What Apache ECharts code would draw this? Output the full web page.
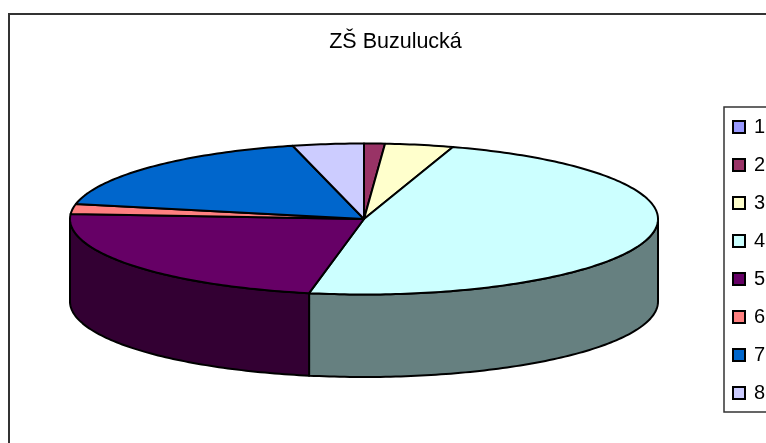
<!DOCTYPE html>
<html>
<head>
<meta charset="utf-8">
<style>html,body{margin:0;padding:0;background:#fff;overflow:hidden}#c{width:766px;height:443px}</style>
<script src="https://cdn.jsdelivr.net/npm/echarts@6/dist/echarts.min.js"></script>
</head>
<body>
<div id="c"></div>
<script>
const titleText = 'ZŠ Buzulucká';
const categories = ['1','2','3','4','5','6','7','8'];
const values = [0, 1.14, 3.75, 48.1, 23.05, 2.14, 17.92, 3.9];
const colors = ['#9999FF','#993366','#FFFFCC','#CCFFFF','#660066','#FF8080','#0066CC','#CCCCFF'];
const sideColors = ['#4D4D80','#4D1A33','#808066','#668080','#330033','#804040','#003366','#666680'];

const CX = 364, CY = 219, RX = 294, RY = 75.5, DEPTH = 82.5;
const total = values.reduce((a, b) => a + b, 0);
const TWO_PI = Math.PI * 2;

function pt(t, dy) {
  return [CX + RX * Math.sin(t), CY - RY * Math.cos(t) + (dy || 0)];
}
function arc(a, b, dy) {
  const out = [];
  const n = Math.max(1, Math.ceil((b - a) / (Math.PI / 180)));
  for (let i = 0; i <= n; i++) out.push(pt(a + (b - a) * i / n, dy));
  return out;
}
const lineStyle = { stroke: '#000', lineWidth: 2, lineJoin: 'round' };

function sliceSeries(idx) {
  const before = values.slice(0, idx).reduce((a, b) => a + b, 0);
  const a0 = before / total * TWO_PI;
  const a1 = (before + values[idx]) / total * TWO_PI;
  return {
    type: 'custom',
    name: categories[idx],
    coordinateSystem: 'none',
    silent: true,
    animation: false,
    data: [[values[idx]]],
    renderItem: function () {
      const children = [];
      const wa = Math.max(a0, Math.PI / 2), wb = Math.min(a1, Math.PI * 1.5);
      if (wb > wa) {
        const top = arc(wa, wb, 0), bottom = arc(wa, wb, DEPTH).reverse();
        children.push({
          type: 'polygon',
          shape: { points: top.concat(bottom) },
          style: Object.assign({ fill: sideColors[idx] }, lineStyle)
        });
      }
      if (values[idx] > 0) {
        children.push({
          type: 'polygon',
          shape: { points: [[CX, CY]].concat(arc(a0, a1, 0)) },
          style: Object.assign({ fill: colors[idx] }, lineStyle)
        });
      }
      return { type: 'group', children: children };
    }
  };
}

const chart = echarts.init(document.getElementById('c'), null, { renderer: 'canvas', width: 766, height: 443 });
chart.setOption({
  animation: false,
  backgroundColor: '#fff',
  title: {
    text: titleText,
    left: 390.5,
    top: 26,
    textAlign: 'center',
    textStyle: { fontFamily: 'Liberation Sans', fontSize: 21.5, fontWeight: 'normal', color: '#000' }
  },
  legend: {
    orient: 'vertical',
    left: 724,
    top: 107,
    width: 60,
    padding: [9, 26, 8, 8],
    itemGap: 16,
    itemWidth: 12,
    itemHeight: 12,
    selectedMode: false,
    borderColor: '#333',
    borderWidth: 1.5,
    textStyle: { fontFamily: 'Liberation Sans', fontSize: 20, color: '#000', padding: [0, 0, 0, 4], lineHeight: 22 },
    data: categories.map((c, i) => ({
      name: c,
      icon: 'rect',
      itemStyle: { color: colors[i], borderColor: '#000', borderWidth: 2 }
    }))
  },
  graphic: [{
    type: 'rect',
    silent: true,
    z: -1,
    shape: { x: 9, y: 14, width: 800, height: 480 },
    style: { fill: 'none', stroke: '#333', lineWidth: 2 }
  }],
  series: categories.map((c, i) => sliceSeries(i))
});
</script>
</body>
</html>
